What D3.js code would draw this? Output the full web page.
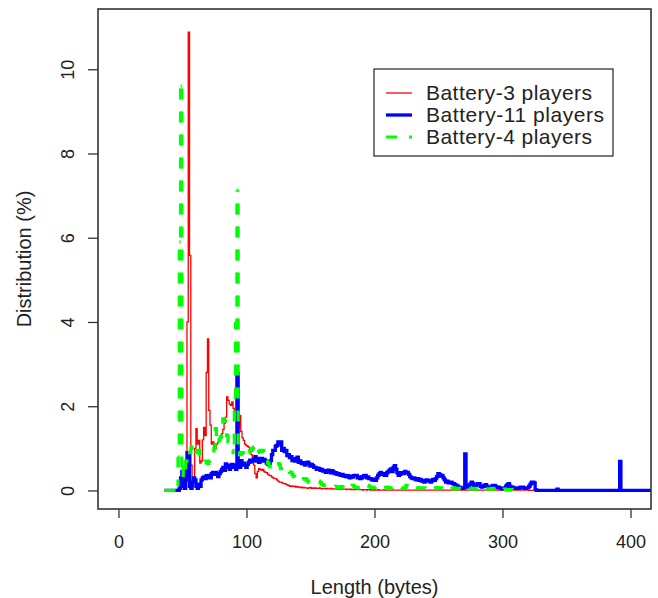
<!DOCTYPE html>
<html><head><meta charset="utf-8">
<script src="https://cdn.jsdelivr.net/npm/d3@7"></script>
<style>body{margin:0;background:#fff}</style>
</head><body>
<svg id="chart" width="658" height="598"></svg>
<script>
// ---------------- DATA ----------------
const seriesNames = ["Battery-3 players", "Battery-11 players", "Battery-4 players"];
const firstLength = 36; // per-byte values start at this length (bytes)
// Distribution (%) per packet length, bytes 36..330
const red3 = [
0,0,0,0,0,0,0,0,0,0,
0,0.05,0.1,0.25,0.15,0.3,0.2,0.5,4.0,10.88,
5.58,0.6,0.1,0.3,1.0,1.47,1.1,1.19,0.65,0.7,
1.2,1.5,1.3,2.8,3.6,1.9,1.55,1.1,1.15,1.0,
1.0,1.1,1.15,1.19,1.25,1.35,1.45,1.6,1.74,2.22,
2.14,2.05,2.02,2.1,1.95,1.85,1.74,1.6,1.5,1.78,
1.4,1.25,1.19,1.1,1.07,1.05,1.03,0.95,0.85,0.76,
0.6,0.4,0.3,0.45,0.52,0.5,0.48,0.5,0.45,0.43,
0.42,0.38,0.36,0.35,0.32,0.3,0.28,0.28,0.25,0.22,
0.2,0.2,0.18,0.17,0.16,0.15,0.13,0.12,0.1,0.11,
0.1,0.09,0.1,0.08,0.09,0.08,0.07,0.08,0.06,0.07,
0.06,0.06,0.05,0.06,0.07,0.05,0.06,0.05,0.06,0.05,
0.05,0.06,0.05,0.04,0.05,0.05,0.04,0.05,0.04,0.04,
0.05,0.04,0.03,0.04,0.04,0.03,0.04,0.03,0.03,0.04,
0.03,0.03,0.02,0.03,0.03,0.02,0.03,0.02,0.02,0.03,
0.02,0.02,0.03,0.02,0.02,0.01,0.02,0.02,0.01,0.02,
0.02,0.01,0.02,0.01,0.02,0.01,0.01,0.02,0.01,0.01,
0.01,0.01,0.02,0.01,0.01,0.01,0.01,0.01,0.02,0.01,
0.01,0.01,0.01,0.01,0.01,0.01,0.02,0.01,0.01,0.01,
0.01,0.01,0.01,0.01,0.01,0.01,0.01,0.01,0.01,0.01,
0.01,0.01,0.01,0.01,0.01,0.01,0.01,0.01,0.01,0.01,
0.01,0.01,0.01,0.01,0.01,0.01,0.01,0.01,0.01,0.01,
0.01,0.01,0.01,0.01,0.01,0.01,0.01,0.01,0.01,0.01,
0.01,0.01,0.01,0.01,0.01,0.01,0.01,0.01,0.01,0.01,
0.01,0.01,0.01,0.01,0.01,0.01,0.01,0.01,0.01,0.01,
0.01,0.01,0.01,0.01,0.01,0.01,0.01,0.01,0.01,0.01,
0.01,0.01,0.01,0.01,0.01,0.01,0.01,0.01,0.01,0.01,
0.01,0.01,0.01,0.01,0.01,0.01,0.01,0.01,0.01,0.01,
0.01,0.01,0.01,0.01,0.01,0,0,0,0,0,
0,0,0,0,0
];
const blue11 = [
0,0,0,0,0,0,0,0,0,0,
0,0,0.05,0.3,0.45,0.1,0.05,0.25,0.9,0.85,
0.1,0.05,0.2,0.3,0.25,0.1,0.05,0.15,0.1,0.25,
0.3,0.32,0.28,0.35,0.3,0.36,0.3,0.4,0.43,0.38,
0.43,0.4,0.33,0.4,0.45,0.5,0.55,0.48,0.63,0.55,
0.6,0.5,0.55,0.62,0.55,0.6,0.5,2.78,0.6,0.55,
0.71,0.6,0.65,0.6,0.55,0.62,0.67,0.72,0.68,0.71,
0.75,0.8,0.7,0.76,0.67,0.72,0.76,0.7,0.74,0.71,
0.65,0.62,0.64,0.71,0.85,0.95,0.95,1.05,1.07,1.15,
1.1,1.15,0.95,1.0,0.92,0.95,0.83,0.85,0.78,0.8,
0.71,0.75,0.7,0.76,0.79,0.67,0.7,0.65,0.63,0.66,
0.6,0.64,0.67,0.63,0.58,0.62,0.59,0.55,0.55,0.5,
0.53,0.52,0.48,0.5,0.46,0.47,0.43,0.45,0.48,0.44,
0.42,0.47,0.44,0.4,0.42,0.38,0.4,0.37,0.36,0.38,
0.34,0.36,0.33,0.35,0.32,0.3,0.34,0.32,0.35,0.36,
0.36,0.3,0.32,0.28,0.3,0.33,0.35,0.36,0.3,0.32,
0.28,0.28,0.25,0.27,0.24,0.24,0.3,0.36,0.4,0.43,
0.38,0.4,0.36,0.36,0.42,0.45,0.48,0.51,0.45,0.55,
0.59,0.5,0.42,0.36,0.38,0.42,0.4,0.4,0.45,0.43,
0.43,0.38,0.33,0.3,0.28,0.3,0.27,0.25,0.28,0.24,
0.26,0.22,0.24,0.2,0.22,0.25,0.22,0.24,0.2,0.23,
0.26,0.24,0.28,0.33,0.4,0.38,0.34,0.36,0.3,0.25,
0.2,0.22,0.18,0.2,0.2,0.17,0.16,0.14,0.12,0.1,
0.08,0.07,0.06,0.05,0.06,0.87,0.1,0.08,0.12,0.15,
0.2,0.17,0.12,0.12,0.14,0.16,0.16,0.1,0.08,0.1,
0.12,0.14,0.1,0.08,0.07,0.08,0.1,0.12,0.12,0.09,
0.07,0.08,0.06,0.05,0.04,0.04,0.06,0.1,0.14,0.16,
0.1,0.08,0.08,0.06,0.05,0.06,0.06,0.05,0.07,0.08,
0.08,0.06,0.05,0.06,0.06,0.1,0.15,0.2,0.2,0.18,
0.02,0,0,0,0
];
const green4 = [
0,0,0,0,0,0,0,0,0,0,
0.1,0.8,5.9,9.6,0.55,0.3,0.5,0.7,0.85,0.95,
0.9,1.0,1.03,0.9,0.85,0.9,0.95,0.95,0.85,0.75,
0.71,0.68,0.7,0.66,0.64,0.7,0.75,0.8,0.8,1.0,
1.47,1.19,1.1,1.2,1.27,1.5,1.7,1.66,1.43,1.3,
1.15,1.05,0.99,0.95,0.9,2.2,4.0,7.13,0.9,0.85,
0.87,0.9,0.85,0.8,0.83,0.88,0.9,0.95,0.95,1.0,
1.03,0.95,0.87,0.9,0.92,0.95,0.93,0.95,0.88,0.8,
0.71,0.65,0.58,0.52,0.55,0.58,0.6,0.62,0.64,0.64,
0.6,0.52,0.47,0.48,0.5,0.47,0.45,0.44,0.43,0.43,
0.38,0.33,0.3,0.27,0.24,0.24,0.25,0.26,0.27,0.28,
0.28,0.25,0.22,0.2,0.2,0.21,0.22,0.23,0.24,0.24,
0.24,0.22,0.18,0.15,0.13,0.12,0.12,0.12,0.12,0.11,
0.1,0.09,0.08,0.09,0.1,0.08,0.07,0.08,0.09,0.08,
0.07,0.08,0.07,0.06,0.07,0.08,0.1,0.12,0.1,0.08,
0.07,0.06,0.07,0.08,0.07,0.06,0.07,0.08,0.1,0.12,
0.1,0.08,0.07,0.06,0.07,0.08,0.07,0.06,0.07,0.08,
0.07,0.06,0.05,0.07,0.08,0.07,0.06,0.05,0.06,0.07,
0.08,0.07,0.06,0.05,0.06,0.07,0.06,0.05,0.06,0.12,
0.1,0.07,0.06,0.05,0.06,0.05,0.06,0.07,0.06,0.05,
0.05,0.06,0.05,0.06,0.05,0.06,0.05,0.05,0.06,0.05,
0.06,0.05,0.06,0.07,0.06,0.05,0.06,0.05,0.04,0.05,
0.06,0.05,0.04,0.05,0.04,0.05,0.06,0.05,0.04,0.05,
0.05,0.04,0.05,0.04,0.05,0.06,0.05,0.04,0.05,0.04,
0.05,0.04,0.05,0.04,0.03,0.04,0.05,0.04,0.03,0.04,
0.05,0.04,0.03,0.04,0.03,0.04,0.05,0.04,0.03,0.04,
0.03,0.04,0.03,0.02,0.03,0.02,0.03,0.02,0.01,0.02,
0.01,0.02,0.01,0.01,0
];
// sparse tail beyond 330 bytes (Battery-4 data ends at 310 bytes)
const tailLengths = [331, 342, 343, 344, 391, 392, 393, 440];
const tailRed   = [0, 0, 0, 0, 0, 0, 0, 0];
const tailBlue  = [0, 0, 0.03, 0, 0, 0.69, 0, 0];

const xTicks = [0, 100, 200, 300, 400];
const yTicks = [0, 2, 4, 6, 8, 10];
const xLabel = "Length (bytes)";
const yLabel = "Distribution (%)";

// ---------------- BUILD ----------------
function toPoints(vals, tail) {
  const pts = vals.map((v, i) => ({x: firstLength + i, y: v}));
  if (tail) tailLengths.forEach((l, i) => pts.push({x: l, y: tail[i]}));
  return pts;
}
const DASH_ON = 11, DASH_OFF = 12, PERIOD = DASH_ON + DASH_OFF;
const series = [
  {name: seriesNames[0], pts: toPoints(red3, tailRed),   color: "#ff0000", width: 1.3, dashed: false},
  {name: seriesNames[1], pts: toPoints(blue11, tailBlue), color: "#0000ff", width: 3.3, dashed: false},
  {name: seriesNames[2], pts: toPoints(green4, null),    color: "#00ff00", width: 3.2, dashed: true}
];

const L = 98, R = 651, T = 9, B = 509;
const x = d3.scaleLinear().domain([-16, 416]).range([L, R]);
const y = d3.scaleLinear().domain([-0.44, 11.43]).range([B, T]);

const svg = d3.select("#chart");
const font = "'Liberation Sans', Arial, sans-serif";
const ink = "#222";

svg.append("defs").append("clipPath").attr("id", "plotclip")
  .append("rect").attr("x", L).attr("y", T).attr("width", R - L).attr("height", B - T);

const line = d3.line().x(d => x(d.x)).y(d => y(d.y)).curve(d3.curveStep);
const pixLine = d3.line();
const g = svg.append("g").attr("clip-path", "url(#plotclip)");
const mod = (a, m) => ((a % m) + m) % m;
const BIG = 25; // px: vertical jumps drawn separately with aligned dash phase
series.forEach(s => {
  if (!s.dashed) {
    g.append("path").datum(s.pts)
      .attr("d", line)
      .attr("fill", "none")
      .attr("stroke", s.color)
      .attr("stroke-width", s.width)
      .attr("stroke-linejoin", "miter");
  } else {
    const runs = [], bigs = [];
    const p = s.pts;
    let run = [];
    for (let i = 0; i < p.length; i++) {
      const xl = x(i === 0 ? p[i].x : (p[i - 1].x + p[i].x) / 2);
      const xr = x(i === p.length - 1 ? p[i].x : (p[i].x + p[i + 1].x) / 2);
      const yy = y(p[i].y);
      if (run.length === 0) run.push([xl, yy]);
      run.push([xr, yy]);
      if (i < p.length - 1) {
        const yn = y(p[i + 1].y);
        if (Math.abs(yn - yy) > BIG) {
          runs.push(run); run = [];
          const yb = Math.max(yy, yn), yt = Math.min(yy, yn);
          bigs.push({x: xr, yb: yb, yt: yt, off: mod(y(0) - yb, PERIOD)});
        } else if (Math.abs(yn - yy) > 0.01) {
          run.push([xr, yn]);
        }
      }
    }
    if (run.length) runs.push(run);
    const gg = g.append("g").attr("stroke", s.color).attr("stroke-width", s.width)
      .attr("fill", "none").attr("stroke-dasharray", `${DASH_ON},${DASH_OFF}`);
    gg.selectAll("path").data(runs).join("path").attr("d", pixLine)
      .attr("stroke-linejoin", "miter");
    gg.selectAll("line").data(bigs).join("line")
      .attr("x1", d => d.x).attr("x2", d => d.x)
      .attr("y1", d => d.yb).attr("y2", d => d.yt)
      .attr("stroke-dashoffset", d => d.off);
  }
});

// axes
const xAxis = svg.append("g").attr("transform", `translate(0,${B})`)
  .call(d3.axisBottom(x).tickValues(xTicks).tickSize(9).tickSizeOuter(0).tickPadding(17));
const yAxis = svg.append("g").attr("transform", `translate(${L},0)`)
  .call(d3.axisLeft(y).tickValues(yTicks).tickSize(10).tickSizeOuter(0));
[xAxis, yAxis].forEach(a => {
  a.select(".domain").remove();
  a.selectAll(".tick line").attr("stroke", "#333").attr("stroke-width", 1.3);
  a.selectAll(".tick text").attr("fill", ink).style("font-family", font).style("font-size", "18px");
});
yAxis.selectAll(".tick text")
  .attr("text-anchor", "middle")
  .attr("x", null).attr("dy", null)
  .attr("transform", "translate(-30,0) rotate(-90)")
  .attr("dominant-baseline", "central");

// box
svg.append("rect").attr("x", L).attr("y", T).attr("width", R - L).attr("height", B - T)
  .attr("fill", "none").attr("stroke", "#333").attr("stroke-width", 1.6);

// axis titles
svg.append("text").attr("x", (L + R) / 2).attr("y", 594).attr("text-anchor", "middle")
  .style("font-family", font).style("font-size", "20px").attr("fill", ink).text(xLabel);
svg.append("text").attr("transform", `translate(24,${(T + B) / 2}) rotate(-90)`)
  .attr("text-anchor", "middle").attr("dominant-baseline", "central")
  .style("font-family", font).style("font-size", "20px").attr("fill", ink).text(yLabel);

// legend
const lg = svg.append("g");
lg.append("rect").attr("x", 374).attr("y", 69).attr("width", 239).attr("height", 87)
  .attr("fill", "#fff").attr("stroke", "#222").attr("stroke-width", 1.2);
const textLens = [166, 178, 166];
series.forEach((s, i) => {
  const yy = 93 + i * 22;
  lg.append("line").attr("x1", 386).attr("x2", 412).attr("y1", yy).attr("y2", yy)
    .attr("stroke", s.color).attr("stroke-width", s.width)
    .attr("stroke-dasharray", s.dashed ? `${DASH_ON},${DASH_OFF}` : null);
  lg.append("text").attr("x", 426).attr("y", yy + 7)
    .attr("textLength", textLens[i]).attr("lengthAdjust", "spacing")
    .style("font-family", font).style("font-size", "21px").attr("fill", ink).text(s.name);
});
</script>
</body></html>
